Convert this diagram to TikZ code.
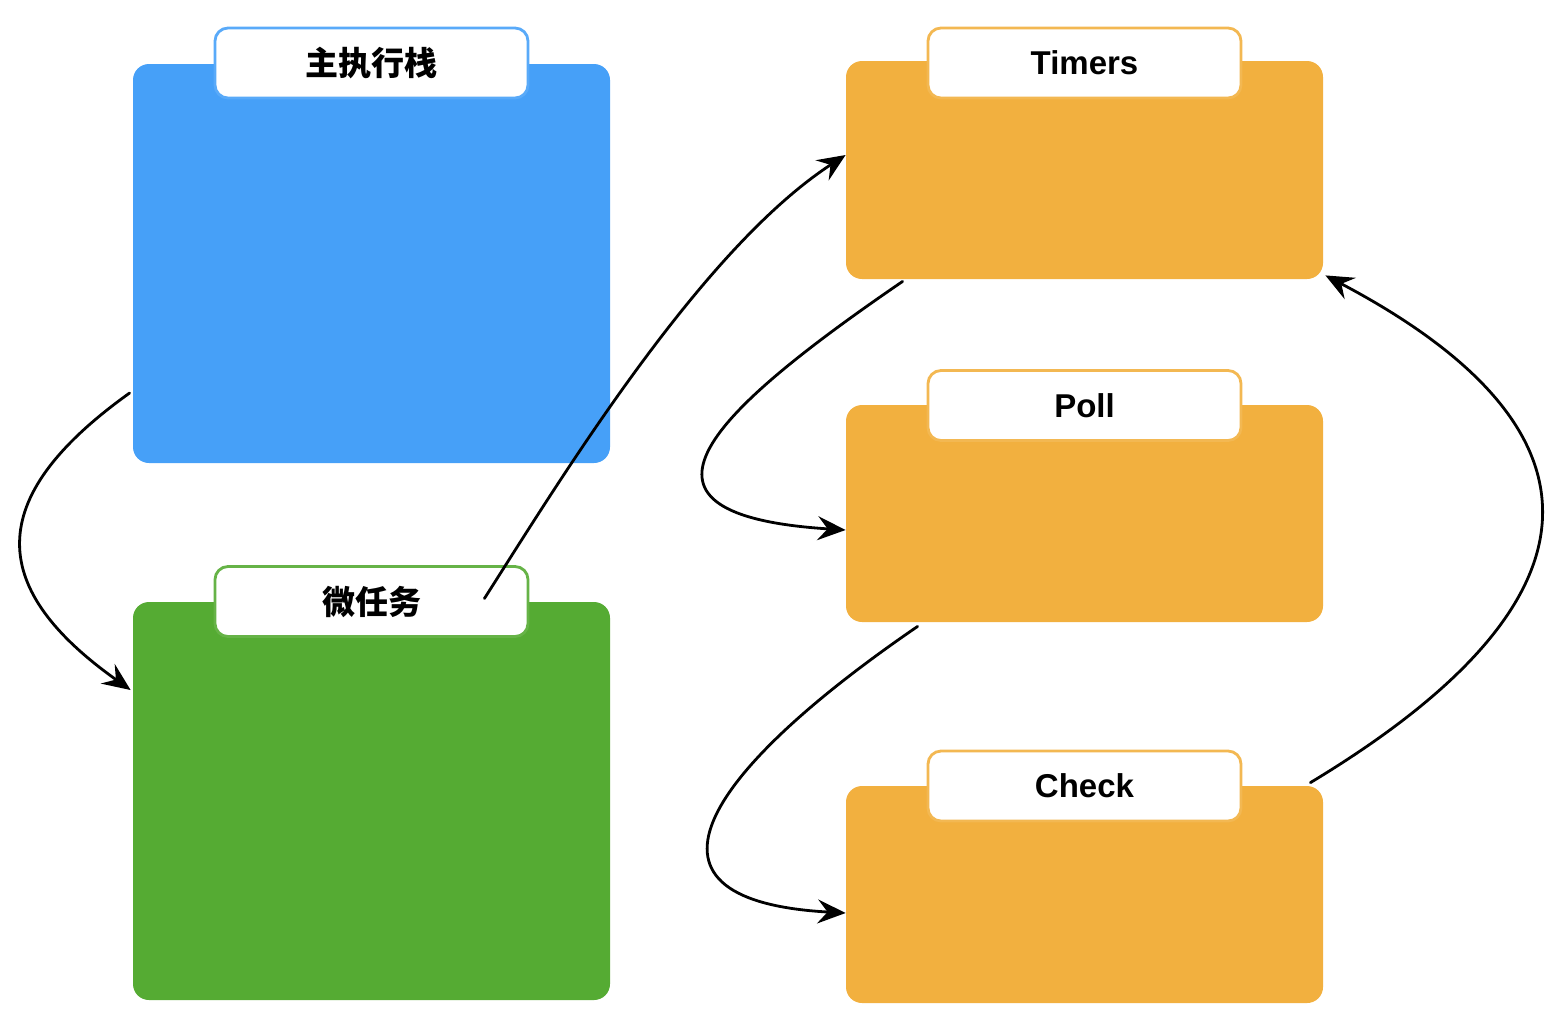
\documentclass[tikz,border=0pt]{standalone}
\usepackage{fontspec}
\setmainfont{Liberation Sans}
\newfontfamily\cjk{Noto Sans CJK SC}
\usetikzlibrary{arrows.meta,calc}
\definecolor{cblue}{HTML}{46A0F8}
\definecolor{cgreen}{HTML}{55AB33}
\definecolor{corange}{HTML}{F2B03F}
\begin{document}
\begin{tikzpicture}[x=0.5pt,y=-0.5pt,
  panel/.style={fill=#1, draw=none, rounded corners=8pt, minimum width=238.5pt, inner sep=0pt},
  tab/.style={fill=white, draw=#1!90, line width=1.4pt, rounded corners=6.5pt,
    minimum width=156.5pt, minimum height=35pt, inner sep=0pt,
    font=\fontsize{16.5}{20}\selectfont\bfseries},
  flow/.style={-{Stealth[length=14pt,width=12pt,inset=5pt]}, line width=1.4pt, black, line cap=round}]
\useasboundingbox (0,0) rectangle (1566,1024);

% panels
\node[panel=cblue, minimum height=199.5pt] (main) at (371.5,263.5) {};
\node[panel=cgreen, minimum height=199pt] (micro) at (371.5,801) {};
\node[panel=corange, minimum height=109pt] (timers) at (1084.5,170) {};
\node[panel=corange, minimum height=108.5pt] (poll) at (1084.5,513.5) {};
\node[panel=corange, minimum height=108.5pt] (check) at (1084.5,894.5) {};

% tabs
\node[tab=cblue] (maintab) at (371.5,63) {\cjk\bfseries 主执行栈};
\node[tab=cgreen] (microtab) at (371.5,601.5) {\cjk\bfseries 微任务};
\node[tab=corange] (timerstab) at (1084.5,63) {Timers};
\node[tab=corange] (polltab) at (1084.5,405.5) {Poll};
\node[tab=corange] (checktab) at (1084.5,786) {Check};

% connectors
\draw[flow] ($(main.west)+(-3,129.5)$) .. controls (-20,500) and (-10,590) .. ($(micro.west)+(-2,-111)$);
\draw[flow] ($(microtab.east)+(-45,-3)$) .. controls (560,480) and (700,250) .. ($(timers.west)+(0,-15)$);
\draw[flow] ($(timers.south west)+(57,2)$) .. controls (700,420) and (610,515) .. ($(poll.west)+(0,16.5)$);
\draw[flow] ($(poll.south west)+(72,4)$) .. controls (715,765) and (610,900) .. ($(check.west)+(0,18.5)$);
\draw[flow] ($(check.north east)+(-13,-3)$) .. controls (1630,590) and (1600,420) .. ($(timers.south east)+(2,-4)$);
\end{tikzpicture}
\end{document}
